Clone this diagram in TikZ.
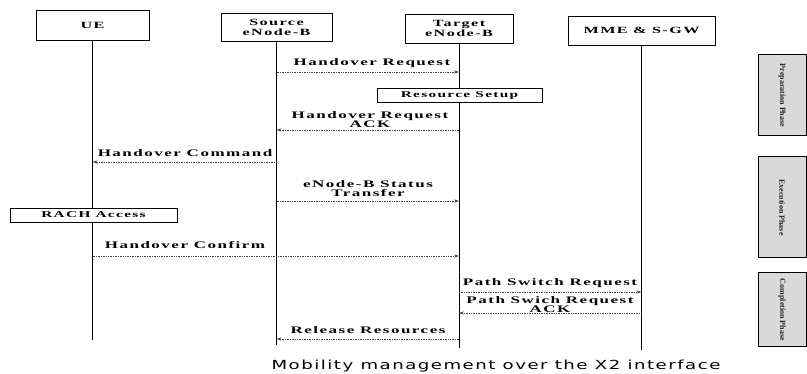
\documentclass[tikz,border=0pt]{standalone}
\usepackage{fontspec}
\usetikzlibrary{arrows.meta}
\newfontfamily\lblfont[FakeStretch=1.7,LetterSpace=15]{Liberation Serif}
\newfontfamily\plainserif{Liberation Serif}
\newfontfamily\capfont[FakeStretch=1.45,LetterSpace=12]{DejaVu Sans}
\begin{document}
\begin{tikzpicture}[x=1pt,y=-1pt,
  actor/.style={draw, line width=0.8pt, inner sep=0pt, align=center,
    font=\lblfont\bfseries\fontsize{9.5}{10}\selectfont},
  life/.style={line width=1pt},
  msg/.style={densely dotted, line width=0.7pt, draw=black!75,
    -{Stealth[length=5pt,width=3.2pt]}},
  lbl/.style={font=\lblfont\bfseries\fontsize{10}{9}\selectfont, align=center, inner sep=0pt},
  boxlbl/.style={draw, line width=0.7pt, fill=white, inner sep=0pt,
    font=\lblfont\bfseries\fontsize{9}{10}\selectfont},
  phase/.style={draw, line width=1pt, fill=gray!30, rotate=-90, inner sep=0pt,
    font=\plainserif\bfseries\fontsize{8}{8}\selectfont, text=black!85}]
\useasboundingbox (0,0) rectangle (807,374);
% actors
\node[actor, minimum width=113pt, minimum height=30pt] (ue)  at (92.5,25)  {UE};
\node[actor, minimum width=111pt, minimum height=28pt] (src) at (276.5,27) {Source\\eNode-B};
\node[actor, minimum width=108pt, minimum height=29pt] (tgt) at (459,28.5) {Target\\eNode-B};
\node[actor, minimum width=147pt, minimum height=29pt] (mme) at (641.5,30.5) {MME \& S-GW};
% lifeline ends
\coordinate (ueE)  at (92.5,340);
\coordinate (srcE) at (276.5,345);
\coordinate (tgtE) at (459,348);
\coordinate (mmeE) at (641.5,350);
\draw[life] (ue.south) -- (ueE);
\draw[life] (src.south) -- (srcE);
\draw[life] (tgt.south) -- (tgtE);
\draw[life] (mme.south) -- (mmeE);
% boxes on lifelines
\node[boxlbl, minimum width=165pt, minimum height=14pt] (rs) at (459.5,95) {Resource Setup};
\node[boxlbl, minimum width=167pt, minimum height=14pt] (rach) at (93.5,215) {RACH Access};
% message endpoints
\coordinate (s1) at (276.5,72);  \coordinate (t1) at (459,72);
\coordinate (s2) at (276.5,130); \coordinate (t2) at (459,130);
\coordinate (u3) at (92.5,162);  \coordinate (s3) at (276.5,162);
\coordinate (s4) at (276.5,201); \coordinate (t4) at (459,201);
\coordinate (u5) at (92.5,256);  \coordinate (t5) at (459,256);
\coordinate (t6) at (459,292);   \coordinate (m6) at (641.5,292);
\coordinate (t7) at (459,313);   \coordinate (m7) at (641.5,313);
\coordinate (s8) at (276.5,339); \coordinate (t8) at (459,339);
% messages
\draw[msg] (s1) -- (t1);
\draw[msg] (t2) -- (s2);
\draw[msg] (s3) -- (u3);
\draw[msg] (s4) -- (t4);
\draw[msg] (u5) -- (t5);
\draw[msg] (t6) -- (m6);
\draw[msg] (m7) -- (t7);
\draw[msg] (t8) -- (s8);
% labels
\node[lbl] (l1) at (372,63) {Handover Request};
\node[lbl] (l2) at (370,120) {Handover Request\\ACK};
\node[lbl] (l3) at (185,153) {Handover Command};
\node[lbl] (l4) at (368,189) {eNode-B Status\\Transfer};
\node[lbl] (l5) at (185,245) {Handover Confirm};
\node[lbl] (l6) at (550,283) {Path Switch Request};
\node[lbl] (l7) at (550,305) {Path Swich Request\\ACK};
\node[lbl] (l8) at (368,330) {Release Resources};
% phases
\node[phase, minimum width=81pt, minimum height=48pt] (p1) at (782,95.5) {Preparation Phase};
\node[phase, minimum width=101pt, minimum height=48pt] (p2) at (782,207.5) {Execution Phase};
\node[phase, minimum width=74pt, minimum height=48pt] (p3) at (782,310) {Completion Phase};
% caption
\node[font=\capfont\fontsize{12.5}{13}\selectfont, inner sep=0pt] (cap) at (496,366) {Mobility management over the X2 interface};
\end{tikzpicture}
\end{document}
